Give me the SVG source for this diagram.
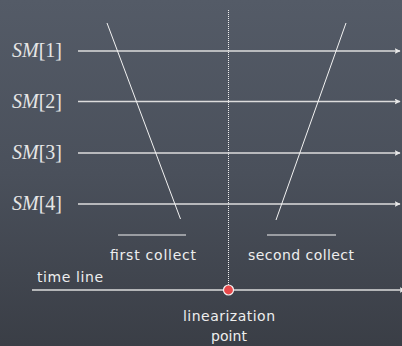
<svg xmlns="http://www.w3.org/2000/svg" width="402" height="346" viewBox="0 0 402 346">
<defs>
<linearGradient id="bg" x1="0" y1="0" x2="0" y2="1">
<stop offset="0" stop-color="#545b67"/>
<stop offset="0.5" stop-color="#4a505b"/>
<stop offset="1" stop-color="#3a3e46"/>
</linearGradient>
<marker id="arr" viewBox="0 0 10 10" refX="9" refY="5" markerWidth="6" markerHeight="6" markerUnits="userSpaceOnUse" orient="auto">
<path d="M0,0 L10,5 L0,10 L2,5 Z" fill="#e8e8e8"/>
</marker>
<style>
.sm{font-family:"Liberation Serif","Times New Roman",serif;font-size:20px;fill:#e6e6e6}
.it{font-style:italic}
.lbl{font-family:"DejaVu Sans","Noto Sans",sans-serif;font-size:14px;fill:#eeeeee}
.hl{stroke:#dcdcdc;stroke-width:1.6;fill:none}
.sl{stroke:#f2f2f2;stroke-width:1;fill:none}
</style>
</defs>
<rect width="402" height="346" fill="url(#bg)"/>
<g id="connectors">
<line class="hl" x1="78" y1="51" x2="400" y2="51" marker-end="url(#arr)"/>
<line class="hl" x1="78" y1="101.5" x2="400" y2="101.5" marker-end="url(#arr)"/>
<line class="hl" x1="78" y1="153" x2="400" y2="153" marker-end="url(#arr)"/>
<line class="hl" x1="78" y1="204" x2="400" y2="204" marker-end="url(#arr)"/>
<line class="sl" x1="107" y1="23" x2="180.5" y2="219"/>
<line class="sl" x1="346" y1="23" x2="276" y2="220"/>
<line class="sl" x1="118" y1="235" x2="186" y2="235"/>
<line class="sl" x1="267" y1="235" x2="336" y2="235"/>
<line x1="228.5" y1="10" x2="228.5" y2="290" stroke="#f0f0f0" stroke-width="1" stroke-dasharray="1,1"/>
<line class="hl" x1="32" y1="290" x2="405" y2="290" marker-end="url(#arr)"/>
</g>
<g id="sm1"><text class="sm" x="12" y="57" textLength="50"><tspan class="it">SM</tspan>[1]</text></g>
<g id="sm2"><text class="sm" x="12" y="108" textLength="50"><tspan class="it">SM</tspan>[2]</text></g>
<g id="sm3"><text class="sm" x="12" y="159" textLength="50"><tspan class="it">SM</tspan>[3]</text></g>
<g id="sm4"><text class="sm" x="12" y="210" textLength="50"><tspan class="it">SM</tspan>[4]</text></g>
<g id="first-collect"><text class="lbl" x="110" y="260" textLength="86">first collect</text></g>
<g id="second-collect"><text class="lbl" x="248" y="260" textLength="106">second collect</text></g>
<g id="time-line"><text class="lbl" x="37" y="282" textLength="66">time line</text></g>
<g id="linearization-point">
<circle cx="228.5" cy="290" r="5" fill="#e8484a" stroke="#f4f4f4" stroke-width="1.2"/>
<text class="lbl" x="183" y="321" textLength="92">linearization</text>
<text class="lbl" x="211" y="341" textLength="36">point</text>
</g>
</svg>
